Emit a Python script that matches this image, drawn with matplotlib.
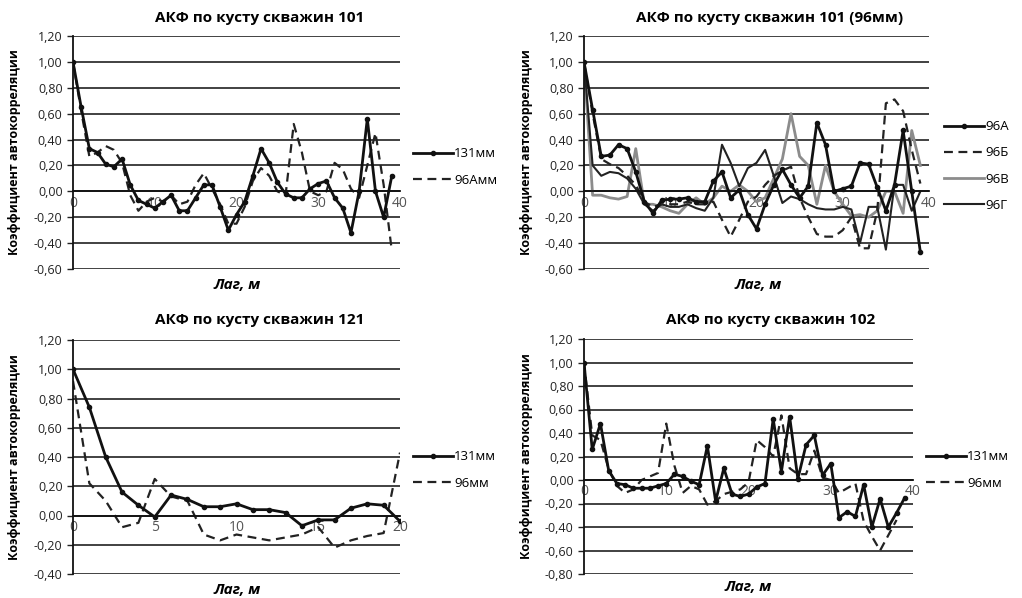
import matplotlib
matplotlib.use('Agg')
import matplotlib.pyplot as plt
from matplotlib.ticker import FuncFormatter, MultipleLocator

plt.rcParams['font.family'] = ['Open Sans', 'DejaVu Sans']

lags40 = list(range(40))
lags21 = list(range(21))

# АКФ по кусту скважин 101
p1_131 = [1.00, 0.65, 0.33, 0.30, 0.21, 0.19, 0.25, 0.05, -0.07, -0.10,
          -0.13, -0.08, -0.03, -0.15, -0.15, -0.05, 0.05, 0.05, -0.12, -0.30,
          -0.18, -0.08, 0.12, 0.33, 0.22, 0.07, -0.02, -0.05, -0.05, 0.02,
          0.06, 0.08, -0.05, -0.13, -0.32, 0.00, 0.56, 0.00, -0.20, 0.12]
p1_96a = [1.00, 0.62, 0.27, 0.30, 0.35, 0.32, 0.22, -0.03, -0.15, -0.08,
          -0.05, -0.08, -0.03, -0.10, -0.08, 0.05, 0.14, 0.02, -0.10, -0.25,
          -0.25, -0.12, 0.08, 0.18, 0.12, 0.00, -0.03, 0.52, 0.30, 0.00,
          -0.03, 0.00, 0.22, 0.17, 0.02, -0.05, 0.20, 0.45, 0.05, -0.46]

# АКФ по кусту скважин 101 (96мм)
p2_a = [1.00, 0.63, 0.27, 0.28, 0.36, 0.33, 0.15, -0.08, -0.17, -0.07,
        -0.06, -0.06, -0.05, -0.08, -0.08, 0.08, 0.15, -0.05, 0.01, -0.18,
        -0.29, -0.10, 0.05, 0.17, 0.05, -0.05, 0.04, 0.53, 0.36, 0.00,
        0.02, 0.04, 0.22, 0.21, 0.03, -0.15, 0.05, 0.47, 0.00, -0.47]
p2_b = [1.00, 0.60, 0.25, 0.21, 0.18, 0.12, 0.05, -0.08, -0.12, -0.10,
        -0.10, -0.10, -0.08, -0.10, -0.10, -0.08, -0.22, -0.35, -0.22, -0.08,
        -0.04, 0.05, 0.12, 0.16, 0.19, -0.05, -0.20, -0.33, -0.35, -0.35,
        -0.30, -0.20, -0.44, -0.44, -0.15, 0.68, 0.71, 0.62, 0.32, 0.06]
p2_v = [1.00, -0.03, -0.03, -0.05, -0.06, -0.04, 0.33, -0.10, -0.10, -0.12,
        -0.15, -0.17, -0.10, -0.05, -0.10, -0.05, 0.04, 0.00, 0.05, 0.00,
        -0.08, -0.05, 0.10, 0.25, 0.60, 0.27, 0.20, -0.10, 0.20, 0.00,
        -0.10, -0.19, -0.18, -0.20, -0.15, 0.00, 0.00, -0.17, 0.47, 0.20]
p2_g = [1.00, 0.20, 0.12, 0.15, 0.14, 0.10, 0.02, -0.10, -0.15, -0.10,
        -0.12, -0.12, -0.10, -0.13, -0.15, -0.05, 0.36, 0.22, 0.04, 0.18,
        0.22, 0.32, 0.12, -0.09, -0.04, -0.06, -0.10, -0.13, -0.14, -0.14,
        -0.12, -0.14, -0.40, -0.12, -0.12, -0.45, 0.05, 0.05, -0.15, 0.00]

# АКФ по кусту скважин 121
p3_131 = [1.00, 0.74, 0.40, 0.16, 0.07, -0.01, 0.14, 0.11, 0.06, 0.06, 0.08,
          0.04, 0.04, 0.02, -0.07, -0.03, -0.03, 0.05, 0.08, 0.07, -0.04]
p3_96 = [0.92, 0.22, 0.10, -0.08, -0.05, 0.25, 0.13, 0.10, -0.13, -0.17, -0.13,
         -0.15, -0.17, -0.15, -0.13, -0.08, -0.22, -0.17, -0.14, -0.12, 0.43]

# АКФ по кусту скважин 102
p4_131 = [1.00, 0.26, 0.48, 0.08, -0.03, -0.04, -0.07, -0.07, -0.07, -0.05,
          -0.03, 0.05, 0.03, -0.01, -0.04, 0.29, -0.18, 0.10, -0.12, -0.14,
          -0.12, -0.06, -0.03, 0.52, 0.07, 0.54, 0.01, 0.30, 0.38, 0.04,
          0.14, -0.32, -0.27, -0.31, -0.04, -0.40, -0.16, -0.40, -0.28, -0.15]
p4_96 = [1.00, 0.38, 0.34, 0.09, -0.05, -0.11, -0.08, 0.00, 0.03, 0.06,
         0.48, 0.12, -0.11, -0.05, -0.08, -0.21, -0.18, -0.12, -0.10, -0.08,
         -0.02, 0.34, 0.28, 0.20, 0.55, 0.10, 0.05, 0.05, 0.25, 0.02,
         0.00, -0.11, -0.07, -0.03, -0.35, -0.48, -0.60, -0.47, -0.34]

W, H = 1022, 598
fig = plt.figure(figsize=(W / 100, H / 100), dpi=100)


def px_axes(left, top, right, bottom):
    return fig.add_axes([left / W, 1 - bottom / H, (right - left) / W, (bottom - top) / H])


def fmt(v, _):
    return '{:.2f}'.format(v).replace('.', ',')


def setup(ax, xmax, xstep, ymin, ymax):
    ax.set_xlim(0, xmax)
    ax.set_ylim(ymin, ymax)
    ax.yaxis.set_major_locator(MultipleLocator(0.2))
    ax.yaxis.set_major_formatter(FuncFormatter(fmt))
    ax.set_xticks(list(range(0, xmax + 1, xstep)))
    ax.grid(axis='y', color='#333333', lw=1.3)
    ax.set_axisbelow(True)
    for s in ('top', 'right'):
        ax.spines[s].set_visible(False)
    ax.spines['bottom'].set_position(('data', 0))
    ax.spines['bottom'].set_color('#111111')
    ax.spines['bottom'].set_linewidth(1.3)
    ax.spines['left'].set_color('#111111')
    ax.spines['left'].set_linewidth(1.3)
    ax.tick_params(axis='y', labelsize=9, length=4, width=1, colors='#222222')
    ax.tick_params(axis='x', labelsize=10, length=0, pad=3, labelcolor='#555555')


def labels(ax, cx, ty, ylx, xly, xlx, title):
    fig.text(cx / W, 1 - ty / H, title, ha='center', va='center',
             fontsize=11, fontweight='bold')
    bb = ax.get_position()
    fig.text(ylx / W, bb.y0 + bb.height / 2, 'Коэффициент автокорреляции', rotation=90,
             ha='center', va='center', fontsize=9, fontweight='bold')
    fig.text(xlx / W, 1 - xly / H, 'Лаг, м', ha='center', va='center',
             fontsize=11, fontweight='bold', style='italic')


solid = dict(color='#111111', lw=2.0, marker='o', ms=3)
dashed = dict(color='#222222', lw=1.6, dashes=(4, 2.5))

# panel 1
ax1 = px_axes(73, 36, 400, 269)
setup(ax1, 40, 10, -0.6, 1.2)
ax1.plot(lags40, p1_96a, label='96Амм', **dashed)
ax1.plot(lags40, p1_131, label='131мм', **solid)
labels(ax1, 260, 18, 15, 285, 237, 'АКФ по кусту скважин 101')

# panel 2
ax2 = px_axes(584, 36, 929, 269)
setup(ax2, 40, 10, -0.6, 1.2)
ax2.plot(lags40, p2_v, color='#8c8c8c', lw=2.0, label='96В')
ax2.plot(lags40, p2_g, color='#222222', lw=1.5, label='96Г')
ax2.plot(lags40, p2_b, label='96Б', **dashed)
ax2.plot(lags40, p2_a, label='96А', **solid)
labels(ax2, 770, 18, 526, 285, 758, 'АКФ по кусту скважин 101 (96мм)')

# panel 3
ax3 = px_axes(73, 340, 400, 574)
setup(ax3, 20, 5, -0.4, 1.2)
ax3.plot(lags21, p3_96, label='96мм', **dashed)
ax3.plot(lags21, p3_131, label='131мм', **solid)
labels(ax3, 260, 320, 15, 590, 237, 'АКФ по кусту скважин 121')

# panel 4
ax4 = px_axes(584, 339, 913, 574)
setup(ax4, 40, 10, -0.8, 1.2)
ax4.plot(lags40[:len(p4_96)], p4_96, label='96мм', **dashed)
ax4.plot(lags40, p4_131, label='131мм', **solid)
labels(ax4, 771, 320, 526, 587, 748, 'АКФ по кусту скважин 102')

for ax, x, y, sp, order in [(ax1, 413, 167, 1.0, [1, 0]), (ax2, 944, 166, 1.0, [3, 2, 0, 1]),
                            (ax3, 413, 470, 1.0, [1, 0]), (ax4, 926, 470, 1.0, [1, 0])]:
    h, l = ax.get_legend_handles_labels()
    ax.legend([h[i] for i in order], [l[i] for i in order], loc='center left',
              bbox_to_anchor=(x / W, 1 - y / H), bbox_transform=fig.transFigure,
              frameon=False, fontsize=9.5, handlelength=3.0, handletextpad=0.1,
              labelspacing=sp, borderpad=0, borderaxespad=0)

fig.savefig('out.png', dpi=100)
